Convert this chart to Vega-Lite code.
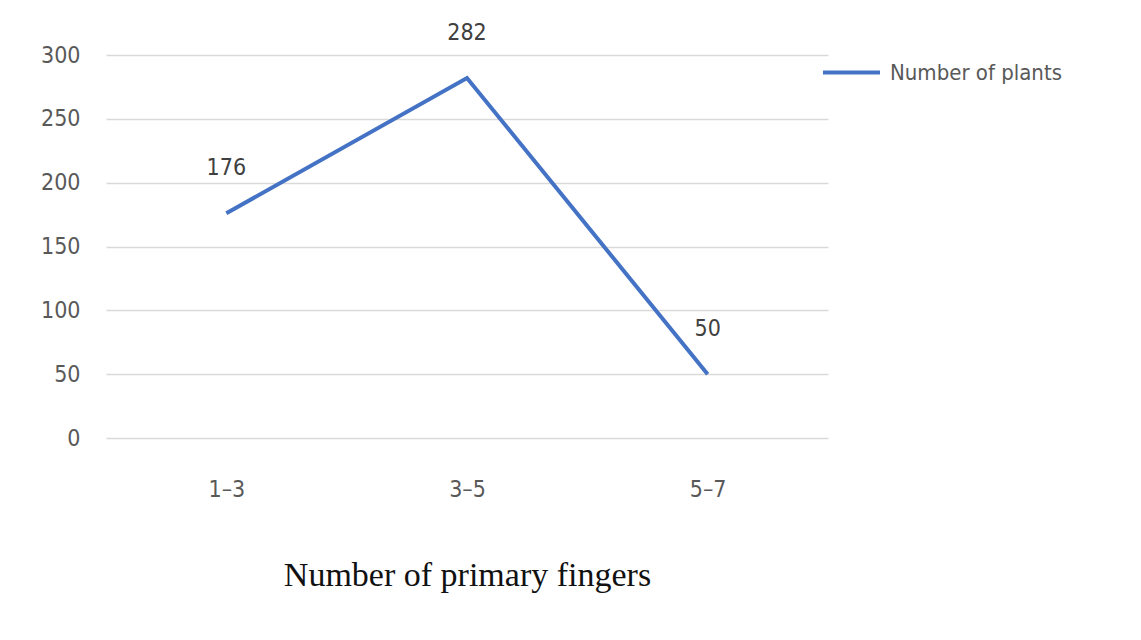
{
  "$schema": "https://vega.github.io/schema/vega-lite/v6.json",
  "width": 722,
  "height": 383,
  "autosize": {"type": "none"},
  "padding": {"left": 106, "top": 55, "right": 313, "bottom": 202},
  "background": "white",
  "data": {"values": [
    {"fingers": "1–3", "plants": 176, "series": "Number of plants"},
    {"fingers": "3–5", "plants": 282, "series": "Number of plants"},
    {"fingers": "5–7", "plants": 50, "series": "Number of plants"}
  ]},
  "encoding": {
    "x": {"field": "fingers", "type": "ordinal", "sort": null,
      "scale": {"paddingInner": 0, "paddingOuter": 0.5},
      "axis": {"title": "Number of primary fingers", "labelAngle": 0, "domain": false, "ticks": false, "grid": false,
        "labelFont": "'Liberation Sans Narrow', 'DejaVu Sans Condensed', sans-serif", "labelFontSize": 23, "labelColor": "#595959", "labelPadding": 40,
        "titleFont": "'Liberation Serif', serif", "titleFontSize": 34, "titleFontWeight": "normal", "titleColor": "#111111", "titlePadding": 57}},
    "y": {"field": "plants", "type": "quantitative",
      "scale": {"domain": [0, 300], "nice": false},
      "axis": {"title": null, "values": [0, 50, 100, 150, 200, 250, 300], "domain": false, "ticks": false,
        "gridColor": "#d9d9d9", "gridWidth": 1.5,
        "labelFont": "'Liberation Sans Narrow', 'DejaVu Sans Condensed', sans-serif", "labelFontSize": 23, "labelColor": "#595959", "labelPadding": 26}}
  },
  "layer": [
    {"mark": {"type": "line", "strokeWidth": 4, "strokeCap": "butt"},
      "encoding": {"color": {"field": "series", "type": "nominal",
        "scale": {"range": ["#4472C4"]},
        "legend": {"title": null, "orient": "none", "legendX": 715, "legendY": -13, "symbolType": "stroke", "symbolSize": 3249, "symbolStrokeWidth": 4, "labelLimit": 400,
          "labelFont": "'Liberation Sans Narrow', 'DejaVu Sans Condensed', sans-serif", "labelFontSize": 22, "labelColor": "#595959", "labelOffset": 8}}}},
    {"mark": {"type": "text", "dy": -45, "fontSize": 23, "font": "'Liberation Sans Narrow', 'DejaVu Sans Condensed', sans-serif", "color": "#404040"},
      "encoding": {"text": {"field": "plants", "type": "quantitative"}}}
  ],
  "config": {"view": {"stroke": null}}
}
